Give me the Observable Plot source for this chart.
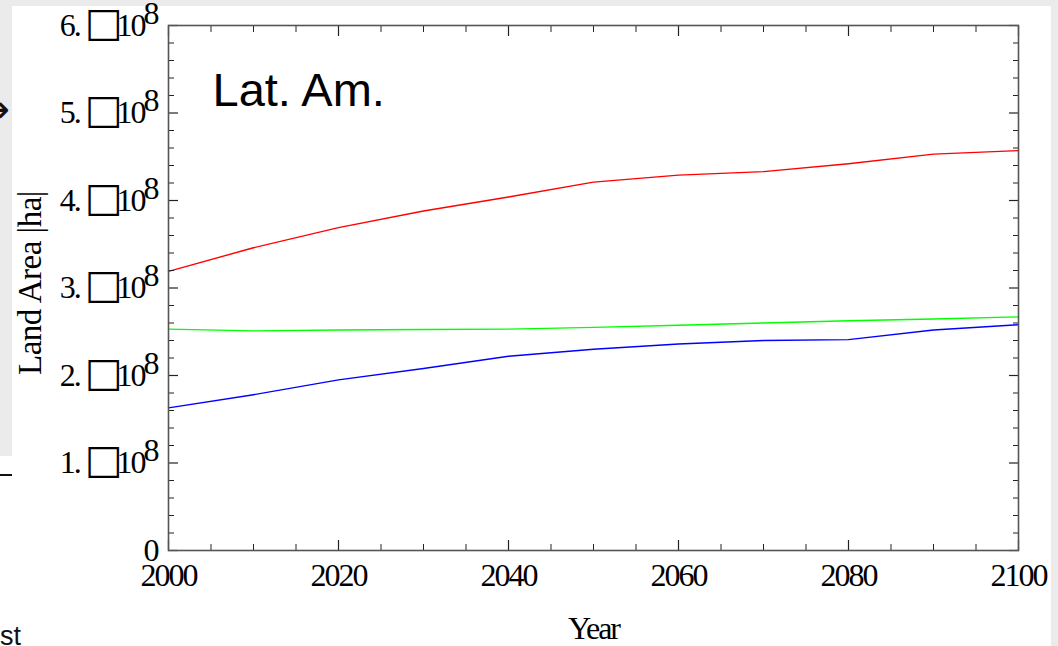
<!DOCTYPE html>
<html>
<head>
<meta charset="utf-8">
<script src="https://cdn.jsdelivr.net/npm/d3@7"></script>
<script src="https://cdn.jsdelivr.net/npm/@observablehq/plot@0.6"></script>
<style>
  html, body { margin: 0; padding: 0; background: #ffffff; }
  #wrap { position: relative; width: 1058px; height: 646px; overflow: hidden; background: #ffffff; }
  .deco { position: absolute; line-height: 1; }
  #chart { position: absolute; left: 0; top: 0; }
  #chart svg { background: transparent; }
</style>
</head>
<body>
<div id="wrap">
  <div class="deco" style="left:0;top:0;width:1058px;height:6px;background:#ebebeb"></div>
  <div class="deco" style="left:1051px;top:0;width:7px;height:646px;background:#ebebeb"></div>
  <div class="deco" style="left:0;top:0;width:12px;height:456px;background:#ebebeb"></div>
  <div class="deco" style="left:0;top:474px;width:12px;height:1.5px;background:#111"></div>
  <div class="deco" style="left:-22px;top:90px;font-family:'DejaVu Sans';font-size:38px;color:#111">→</div>
  <div class="deco" style="left:0;top:623px;font-family:'Liberation Sans',Arial,sans-serif;font-size:27px;color:#111">st</div>
  <div id="chart"></div>
</div>
<script>
// ---- data ----
const years = [2000, 2010, 2020, 2030, 2040, 2050, 2060, 2070, 2080, 2090, 2100];
const redSeries   = [3.19, 3.46, 3.69, 3.88, 4.04, 4.21, 4.29, 4.33, 4.42, 4.53, 4.57];
const greenSeries = [2.53, 2.51, 2.52, 2.525, 2.53, 2.55, 2.575, 2.60, 2.625, 2.645, 2.67];
const blueSeries  = [1.63, 1.78, 1.95, 2.08, 2.22, 2.30, 2.36, 2.40, 2.41, 2.52, 2.58];
const valueScale = 1e8;
const seriesNames = ["series A", "series B", "series C"];
const seriesColors = ["#ff0000", "#00ff00", "#0000ff"];
const yMajorTicks = [0, 1, 2, 3, 4, 5, 6];
const yMinorStep = 0.2;
const xMajorTicks = [2000, 2020, 2040, 2060, 2080, 2100];
const xMinorStep = 5;
const panelTitle = "Lat. Am.";
const xLabel = "Year";
const yLabel = "Land Area |ha|";

// ---- build table ----
const allSeries = [redSeries, greenSeries, blueSeries];
const rows = [];
allSeries.forEach((s, i) => s.forEach((v, j) => rows.push({series: seriesNames[i], year: years[j], value: v * valueScale})));
const yMajor = yMajorTicks.map(d => d * valueScale);
const yMinor = d3.range(0, 6 + 1e-9, yMinorStep).map(d => Math.round(d * 10) / 10 * valueScale).filter(d => !yMajor.includes(d));
const xMinor = d3.range(2000, 2100 + 1e-9, xMinorStep).filter(d => !xMajorTicks.includes(d));

const serif = "'Liberation Serif', 'Times New Roman', serif";
const sans = "'Liberation Sans', Arial, sans-serif";
const tickColor = "#222";

const plot = Plot.plot({
  width: 1058,
  height: 646,
  marginLeft: 168,
  marginRight: 40,
  marginTop: 25,
  marginBottom: 96,
  style: {background: "transparent", fontFamily: serif},
  x: {domain: [2000, 2100]},
  y: {domain: [0, 6 * valueScale]},
  color: {domain: seriesNames, range: seriesColors},
  marks: [
    // lines
    Plot.line(rows, {x: "year", y: "value", z: "series", stroke: "series", strokeWidth: 1.4}),
    // inward ticks (left/right)
    Plot.axisY(yMajor, {anchor: "left", tickSize: -10, fill: "none", stroke: tickColor, strokeWidth: 1.2}),
    Plot.axisY(yMinor, {anchor: "left", tickSize: -6, fill: "none", stroke: tickColor, strokeWidth: 1}),
    Plot.axisY(yMajor, {anchor: "right", tickSize: -10, fill: "none", stroke: tickColor, strokeWidth: 1.2}),
    Plot.axisY(yMinor, {anchor: "right", tickSize: -6, fill: "none", stroke: tickColor, strokeWidth: 1}),
    // inward ticks (bottom/top)
    Plot.axisX(xMajorTicks, {anchor: "bottom", tickSize: -10, fill: "none", stroke: tickColor, strokeWidth: 1.2}),
    Plot.axisX(xMinor, {anchor: "bottom", tickSize: -6, fill: "none", stroke: tickColor, strokeWidth: 1}),
    Plot.axisX(xMajorTicks, {anchor: "top", tickSize: -10, fill: "none", stroke: tickColor, strokeWidth: 1.2}),
    Plot.axisX(xMinor, {anchor: "top", tickSize: -6, fill: "none", stroke: tickColor, strokeWidth: 1}),
    // tick labels
    Plot.axisY(yMajor, {anchor: "left", tickSize: 0, tickPadding: 11, label: null,
      tickFormat: d => d === 0 ? "0" : `${d / valueScale}.`, fontSize: 32, fill: "#000"}),
    Plot.axisX(xMajorTicks, {anchor: "bottom", tickSize: 0, tickPadding: 13, label: null,
      tickFormat: d => String(d), fontSize: 32, fill: "#000"}),
    // frame
    Plot.frame({stroke: "#555", strokeWidth: 1.6}),
    // axis titles
    Plot.text([xLabel], {frameAnchor: "bottom", dy: 78, fontSize: 32, fontFamily: serif, textAnchor: "middle", lineAnchor: "middle", fill: "#000"}),
    Plot.text([yLabel], {frameAnchor: "left", dx: -138, dy: -5, rotate: -90, fontSize: 33, fontFamily: serif, textAnchor: "middle", lineAnchor: "middle", fill: "#000"}),
    // panel title
    Plot.text([panelTitle], {frameAnchor: "top-left", dx: 44, dy: 47, fontSize: 47, fontFamily: sans, textAnchor: "start", lineAnchor: "top", fill: "#000"})
  ]
});

// condensed serif look for serif texts only
const svg = d3.select(plot);
svg.selectAll("text").filter(function() {
  const host = this.closest("[font-family]");
  const ff = host ? host.getAttribute("font-family") : "";
  return !ff.includes("Sans");
}).attr("letter-spacing", "-2px");
svg.selectAll("text").filter(function() { return this.textContent === yLabel; }).attr("letter-spacing", "-0.5px");

// y tick labels: "n.□10^8"
svg.selectAll('g[aria-label="y-axis tick label"] text').each(function() {
  const t = d3.select(this);
  const s = t.text();
  if (s === "0") return;
  t.text(null);
  t.append("tspan").text(s);
  t.append("tspan").attr("font-family", "'DejaVu Sans'").attr("font-size", 40).attr("dx", 5).attr("letter-spacing", "0px").text("\u25A1");
  t.append("tspan").attr("dx", -6).text("10");
  t.append("tspan").attr("dy", "-0.38em").attr("dx", -1).text("8");
});

document.getElementById("chart").appendChild(plot);
</script>
</body>
</html>
